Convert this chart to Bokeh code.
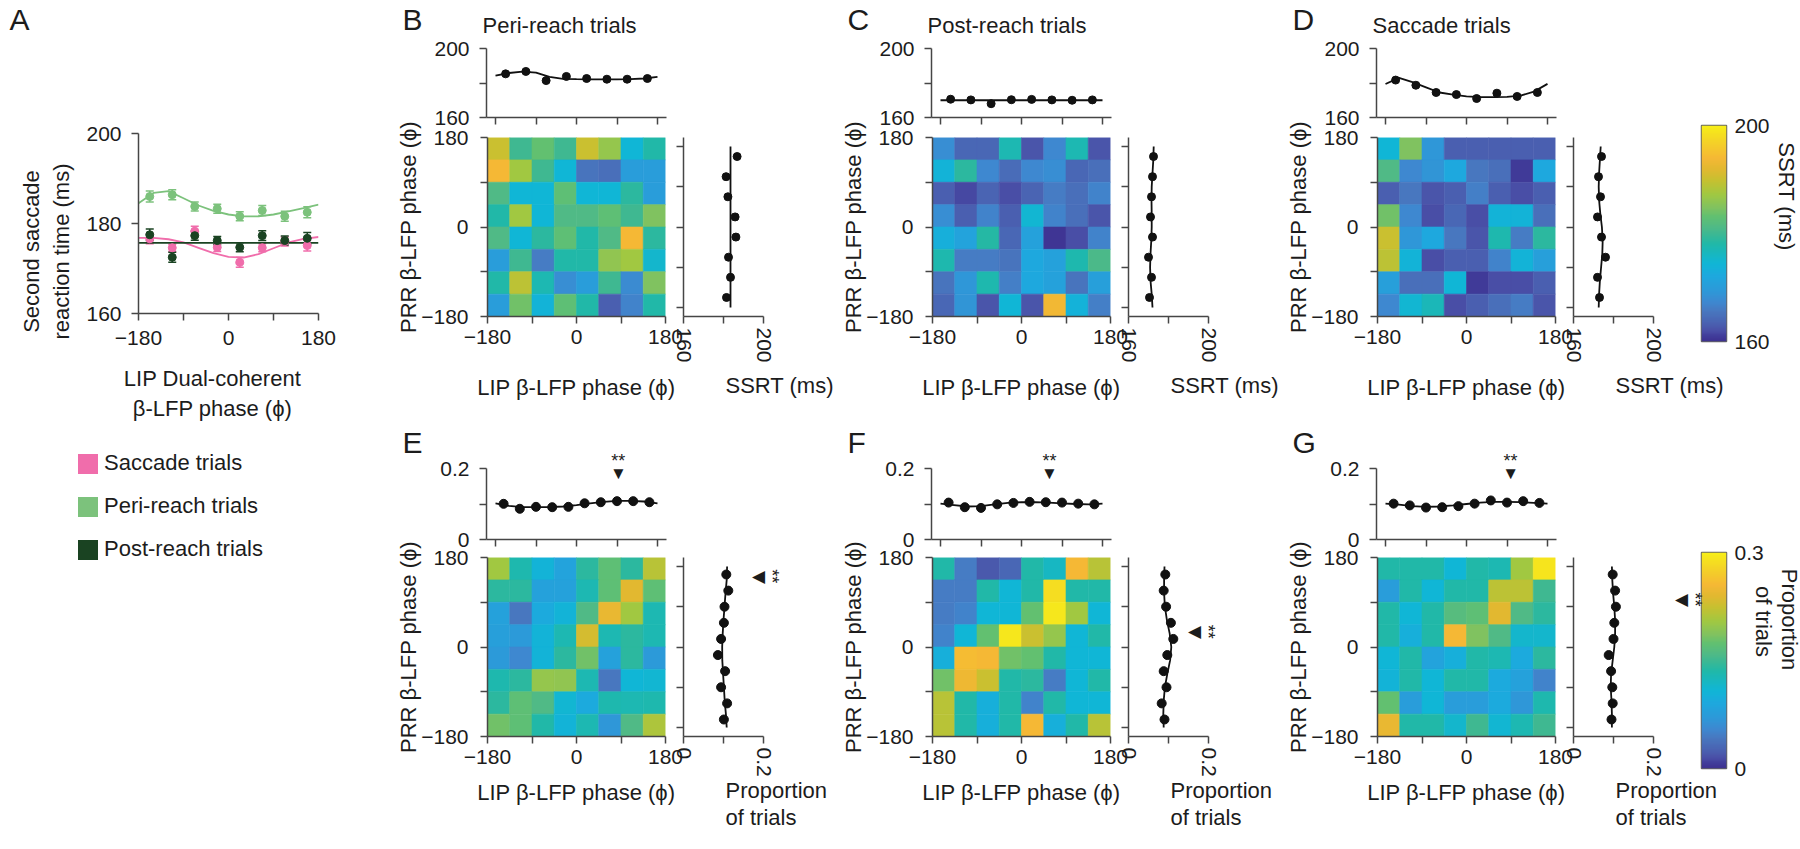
import math
import numpy as np
from bokeh.plotting import figure
from bokeh.layouts import column
from bokeh.models import (ColumnDataSource, FixedTicker, Label, Whisker, TeeHead,
                          Legend, LegendItem, Range1d, LinearAxis, LinearColorMapper,
                          NumeralTickFormatter)
from bokeh.transform import linear_cmap
from bokeh.embed import file_html
from bokeh.resources import INLINE

# ============================ DATA ============================
phase8 = [-157.5, -112.5, -67.5, -22.5, 22.5, 67.5, 112.5, 157.5]
phase10 = [-162, -126, -90, -54, -18, 18, 54, 90, 126, 162]
fit_phase = [-180, -150, -120, -90, -60, -30, 0, 30, 60, 90, 120, 150, 180]
flat_phase = [-180, 180]
heat_bins = [-157.5, -112.5, -67.5, -22.5, 22.5, 67.5, 112.5, 157.5]

# ---- Panel A : second saccade RT vs LIP dual-coherent phase ----
a_sacc = [176.6, 174.6, 178.3, 174.7, 171.4, 174.6, 176.0, 175.1]
a_sacc_err = [1.1, 0.8, 1.1, 0.9, 1.1, 0.9, 1.0, 1.2]
a_peri = [186.0, 186.4, 183.8, 183.3, 181.6, 182.9, 181.6, 182.5]
a_peri_err = [1.2, 1.1, 1.0, 1.0, 1.0, 1.1, 1.1, 1.2]
a_post = [177.5, 172.5, 177.3, 176.2, 174.7, 177.3, 176.2, 176.7]
a_post_err = [1.3, 1.1, 1.0, 0.9, 1.0, 1.1, 1.0, 1.3]
a_sacc_fit = [176.8, 176.8, 176.5, 175.8, 174.6, 173.4, 172.6, 172.4, 173.2, 174.5, 175.8, 176.6, 177.0]
a_peri_fit = [184.5, 186.8, 187.2, 185.6, 184.0, 182.8, 182.0, 181.6, 181.6, 182.0, 182.7, 183.4, 184.2]
a_post_fit = [175.7, 175.7]
legend_labels = ["Saccade trials", "Peri-reach trials", "Post-reach trials"]

# ---- SSRT heat maps (ms); rows listed from PRR phase +157.5 (top) to -157.5 (bottom) ----
heat_B = [
    [190.0, 180.0, 183.2, 180.0, 190.0, 186.4, 174.4, 178.0],
    [194.0, 187.2, 180.0, 174.4, 165.2, 164.8, 170.0, 170.0],
    [181.2, 174.4, 174.4, 182.8, 174.4, 174.4, 178.8, 170.0],
    [178.0, 187.2, 174.4, 181.2, 181.2, 182.8, 180.0, 184.8],
    [181.2, 174.4, 178.8, 182.8, 178.0, 181.2, 194.0, 178.8],
    [170.0, 180.0, 166.0, 178.0, 178.0, 186.0, 187.2, 175.2],
    [178.0, 189.2, 177.2, 168.0, 170.0, 180.0, 167.6, 184.8],
    [170.0, 184.0, 174.0, 182.8, 178.0, 163.2, 166.8, 178.0],
]
heat_C = [
    [168.0, 164.0, 164.0, 177.2, 162.4, 167.2, 177.2, 162.4],
    [174.0, 178.8, 167.2, 164.4, 167.2, 168.0, 164.0, 164.8],
    [163.2, 161.6, 163.6, 162.0, 163.6, 166.0, 164.8, 166.8],
    [168.0, 163.2, 166.8, 163.2, 174.8, 166.8, 164.8, 162.4],
    [173.2, 171.2, 178.4, 164.0, 170.8, 160.4, 162.0, 166.8],
    [177.6, 166.0, 166.0, 165.2, 172.0, 170.8, 177.6, 180.8],
    [165.2, 169.2, 177.6, 166.4, 172.0, 170.8, 165.2, 170.4],
    [164.0, 168.8, 162.4, 174.4, 162.4, 193.6, 173.6, 166.4],
]
heat_D = [
    [174.4, 184.8, 169.2, 163.2, 163.2, 163.2, 163.2, 163.2],
    [181.2, 167.2, 168.8, 172.0, 165.6, 164.8, 160.8, 172.0],
    [163.2, 165.6, 162.4, 163.2, 166.4, 163.2, 162.0, 163.2],
    [184.0, 167.2, 162.0, 164.0, 162.0, 174.0, 174.0, 164.8],
    [190.0, 169.2, 172.0, 165.6, 162.4, 177.6, 166.0, 178.8],
    [189.2, 174.0, 162.0, 163.2, 163.2, 166.8, 174.0, 170.4],
    [170.4, 164.8, 164.8, 174.4, 160.8, 162.0, 162.0, 163.2],
    [167.2, 174.8, 176.8, 162.0, 163.2, 164.8, 166.0, 162.4],
]
# ---- proportion-of-trials heat maps ----
heat_E = [
    [0.204, 0.132, 0.105, 0.084, 0.141, 0.171, 0.141, 0.216],
    [0.141, 0.141, 0.081, 0.081, 0.129, 0.171, 0.240, 0.171],
    [0.081, 0.042, 0.093, 0.105, 0.159, 0.246, 0.204, 0.129],
    [0.078, 0.072, 0.105, 0.129, 0.231, 0.129, 0.141, 0.129],
    [0.072, 0.054, 0.105, 0.141, 0.180, 0.081, 0.141, 0.072],
    [0.132, 0.141, 0.198, 0.195, 0.129, 0.042, 0.108, 0.111],
    [0.141, 0.171, 0.159, 0.111, 0.093, 0.132, 0.129, 0.132],
    [0.180, 0.171, 0.135, 0.105, 0.129, 0.069, 0.159, 0.210],
]
heat_F = [
    [0.135, 0.045, 0.021, 0.030, 0.135, 0.120, 0.255, 0.216],
    [0.045, 0.045, 0.135, 0.108, 0.135, 0.285, 0.135, 0.135],
    [0.045, 0.051, 0.108, 0.108, 0.174, 0.294, 0.204, 0.108],
    [0.051, 0.108, 0.174, 0.294, 0.225, 0.198, 0.108, 0.135],
    [0.099, 0.258, 0.255, 0.180, 0.174, 0.135, 0.108, 0.108],
    [0.180, 0.249, 0.225, 0.135, 0.141, 0.045, 0.108, 0.135],
    [0.216, 0.135, 0.099, 0.135, 0.051, 0.135, 0.108, 0.108],
    [0.216, 0.135, 0.099, 0.135, 0.255, 0.099, 0.135, 0.216],
]
heat_G = [
    [0.135, 0.135, 0.135, 0.108, 0.135, 0.129, 0.204, 0.291],
    [0.075, 0.135, 0.108, 0.135, 0.135, 0.219, 0.219, 0.150],
    [0.135, 0.108, 0.135, 0.165, 0.171, 0.240, 0.159, 0.141],
    [0.135, 0.099, 0.135, 0.255, 0.186, 0.159, 0.114, 0.114],
    [0.108, 0.135, 0.084, 0.099, 0.135, 0.129, 0.093, 0.141],
    [0.105, 0.135, 0.108, 0.135, 0.135, 0.093, 0.081, 0.051],
    [0.174, 0.075, 0.108, 0.075, 0.075, 0.093, 0.069, 0.132],
    [0.246, 0.135, 0.135, 0.114, 0.150, 0.111, 0.129, 0.150],
]

# ---- marginal SSRT (ms) along LIP phase (top) and PRR phase (side) ----
top_B = [185.3, 186.7, 181.4, 183.8, 182.6, 182.2, 182.2, 182.6]
top_C = [170.6, 170.2, 168.0, 170.3, 170.5, 170.2, 170.0, 170.2]
top_D = [181.7, 178.7, 174.5, 173.3, 171.0, 174.1, 172.2, 174.5]
top_B_fit = [184.3, 185.8, 186.6, 186.0, 183.6, 182.4, 182.2, 182.1, 182.1, 182.1, 182.2, 182.6, 183.6]
top_C_fit = [170.0, 170.0]
top_D_fit = [179.4, 183.0, 180.5, 177.5, 174.5, 173.2, 172.3, 171.8, 171.8, 172.0, 172.7, 175.0, 179.5]
side_B = [181.5, 183.5, 182.5, 186.2, 185.8, 182.2, 181.3, 186.8]
side_C = [170.5, 171.5, 170.0, 172.0, 171.0, 171.5, 172.0, 172.5]
side_D = [173.0, 172.0, 176.0, 174.0, 172.0, 173.5, 172.5, 174.0]
side_B_fit = [183.5, 183.5]
side_C_fit = [172.0, 171.6, 171.0, 170.8, 171.0, 171.4, 171.6, 171.6, 171.5, 171.6, 172.0, 172.4, 172.6]
side_D_fit = [172.6, 172.8, 173.2, 173.8, 174.4, 174.6, 174.2, 173.4, 172.8, 172.6, 172.8, 173.2, 173.6]
ssrt_err = [0.9, 0.9, 0.9, 0.9, 0.9, 0.9, 0.9, 0.9]

# ---- marginal proportion of trials ----
top_E = [0.1005, 0.0865, 0.092, 0.091, 0.092, 0.102, 0.105, 0.108, 0.108, 0.105]
top_F = [0.104, 0.091, 0.089, 0.099, 0.103, 0.106, 0.105, 0.104, 0.101, 0.099]
top_G = [0.101, 0.096, 0.090, 0.091, 0.094, 0.101, 0.110, 0.104, 0.108, 0.103]
top_E_fit = [0.102, 0.095, 0.091, 0.091, 0.091, 0.093, 0.0966, 0.102, 0.106, 0.109, 0.109, 0.107, 0.102]
top_F_fit = [0.101, 0.097, 0.093, 0.094, 0.099, 0.103, 0.105, 0.105, 0.104, 0.102, 0.100, 0.099, 0.101]
top_G_fit = [0.101, 0.098, 0.094, 0.092, 0.093, 0.096, 0.100, 0.104, 0.106, 0.106, 0.105, 0.103, 0.101]
side_E = [0.101, 0.109, 0.094, 0.104, 0.086, 0.094, 0.101, 0.1025, 0.112, 0.107]
side_F = [0.090, 0.083, 0.095, 0.088, 0.097, 0.112, 0.106, 0.094, 0.088, 0.092]
side_G = [0.095, 0.098, 0.097, 0.094, 0.088, 0.100, 0.102, 0.106, 0.104, 0.098]
side_E_fit = [0.108, 0.106, 0.103, 0.101, 0.099, 0.097, 0.0967, 0.098, 0.100, 0.1025, 0.105, 0.108, 0.109]
side_F_fit = [0.088, 0.087, 0.088, 0.091, 0.097, 0.104, 0.107, 0.103, 0.096, 0.091, 0.089, 0.089, 0.090]
side_G_fit = [0.096, 0.096, 0.095, 0.093, 0.094, 0.098, 0.102, 0.104, 0.104, 0.102, 0.099, 0.097, 0.096]
# significant-phase markers (phase, value)
sig_top_phase = [93, 62, 98]
sig_top_val = [0.186, 0.186, 0.186]
sig_side_phase = [158, 34, 106]
sig_side_val = [0.1875, 0.165, 0.27]

titles = ["Peri-reach trials", "Post-reach trials", "Saccade trials"]

# ============================ STYLE ============================
FONT = "Liberation Sans"
TXT = "#1c1c1c"
AXC = "#464646"
TICK_FS = "21px"
LAB_FS = "22px"
PINK, LGREEN, DGREEN = "#f06dab", "#7cc27c", "#1a4322"
# parula-like map, matched to the colours seen in the figure
CMAP_STOPS = [
    (0.00, (62, 50, 145)), (0.02, (64, 58, 152)), (0.05, (74, 80, 168)), (0.08, (74, 96, 176)),
    (0.14, (72, 120, 192)), (0.18, (62, 136, 208)), (0.23, (46, 152, 216)), (0.30, (30, 168, 222)),
    (0.36, (16, 182, 214)), (0.45, (32, 184, 168)), (0.50, (62, 184, 146)), (0.53, (80, 186, 134)),
    (0.58, (98, 192, 112)), (0.62, (128, 194, 96)), (0.68, (160, 200, 66)), (0.75, (200, 192, 48)),
    (0.80, (226, 184, 48)), (0.85, (245, 184, 53)), (0.93, (244, 212, 38)), (1.00, (247, 238, 24)),
]
_fr = [s[0] for s in CMAP_STOPS]
PALETTE = []
for t in np.linspace(0, 1, 256):
    rgb = [int(round(np.interp(t, _fr, [s[1][c] for s in CMAP_STOPS]))) for c in range(3)]
    PALETTE.append("#%02x%02x%02x" % tuple(rgb))

ROOT_W, ROOT_H = 1780, 830
FIGS = []


class Panel:
    """A figure whose canvas and frame are given in page pixels."""

    def __init__(self, canvas, frame, xr, yr):
        cx0, cy0, cx1, cy1 = canvas
        fx0, fy0, fx1, fy1 = frame
        self.frame, self.xr, self.yr = frame, xr, yr
        p = figure(width=cx1 - cx0, height=cy1 - cy0, title=None,
                   x_range=Range1d(*xr), y_range=Range1d(*yr),
                   min_border_left=fx0 - cx0, min_border_right=cx1 - fx1,
                   min_border_top=fy0 - cy0, min_border_bottom=cy1 - fy1,
                   x_axis_location=None, y_axis_location=None,
                   output_backend="svg", toolbar_location=None,
                   styles={"position": "absolute", "left": f"{cx0}px", "top": f"{cy0}px"})
        p.frame_align = False
        p.grid.visible = False
        p.outline_line_color = None
        p.background_fill_color = None
        p.border_fill_color = None
        self.p = p
        FIGS.append(p)

    def px(self, x):
        fx0, _, fx1, _ = self.frame
        return fx0 + (x - self.xr[0]) / (self.xr[1] - self.xr[0]) * (fx1 - fx0)

    def py(self, y):
        _, fy0, _, fy1 = self.frame
        return fy1 - (y - self.yr[0]) / (self.yr[1] - self.yr[0]) * (fy1 - fy0)


def add_axis(P, side, major, minor=(), fmt=None, orient=None, tick_out=7, line=True, standoff=10):
    ax = LinearAxis(ticker=FixedTicker(ticks=list(major), minor_ticks=list(minor)))
    if fmt is not None:
        ax.formatter = NumeralTickFormatter(format=fmt)
    ax.axis_line_color = AXC if line else None
    ax.axis_line_width = 1.5
    ax.major_tick_line_color = AXC if tick_out > 0 else None
    ax.minor_tick_line_color = AXC
    ax.major_tick_line_width = 1.5
    ax.minor_tick_line_width = 1.5
    ax.major_tick_in = 0
    ax.minor_tick_in = 0
    ax.major_tick_out = tick_out
    ax.minor_tick_out = tick_out
    ax.major_label_text_font = FONT
    ax.major_label_text_font_size = TICK_FS
    ax.major_label_text_color = TXT
    ax.major_label_standoff = standoff
    if orient is not None:
        ax.major_label_orientation = orient
    P.p.add_layout(ax, side)
    return ax


def errbars(P, base, vals, errs, color, dim="height", head=7):
    src = ColumnDataSource(dict(base=base, lower=[v - e for v, e in zip(vals, errs)],
                                upper=[v + e for v, e in zip(vals, errs)]))
    P.p.add_layout(Whisker(source=src, base="base", lower="lower", upper="upper", dimension=dim,
                           line_color=color, line_width=1.5,
                           upper_head=TeeHead(size=head, line_color=color, line_width=1.5),
                           lower_head=TeeHead(size=head, line_color=color, line_width=1.5)))


TEXTS = []  # (page x, page y, text, size, align, angle)


def text(px, py, s, size=LAB_FS, align="left", angle=0.0):
    TEXTS.append((px, py, s, size, align, angle))


# ============================ PANEL A ============================
A = Panel((8, 8, 392, 430), (138, 133, 318, 313), (-180, 180), (160, 200))
add_axis(A, "left", [160, 180, 200])
add_axis(A, "below", [-180, 0, 180], [-90, 90])
series = [(a_sacc, a_sacc_err, a_sacc_fit, fit_phase, PINK),
          (a_peri, a_peri_err, a_peri_fit, fit_phase, LGREEN),
          (a_post, a_post_err, a_post_fit, flat_phase, DGREEN)]
for vals, errs, fit, fph, col in series:
    A.p.line(fph, fit, line_color=col, line_width=1.8)
for vals, errs, fit, fph, col in series:
    errbars(A, phase8, vals, errs, col, head=8)
    A.p.scatter(phase8, vals, size=8, marker="circle", fill_color=col, line_color=col)
text(9, 19, "A", size="30px")
text(31, 251, "Second saccade", angle=math.pi / 2, align="center")
text(61, 251, "reaction time (ms)", angle=math.pi / 2, align="center")
text(212, 378, "LIP Dual-coherent", align="center")
text(212, 408, "\u03b2-LFP phase (\u03d5)", align="center")

# ============================ B–G ============================
groups = [
    # letter, row, k, heat, lo, hi, top, top_fit, side, side_fit, kind
    ("B", 0, 0, heat_B, 160, 200, top_B, top_B_fit, side_B, side_B_fit, "ssrt"),
    ("C", 0, 1, heat_C, 160, 200, top_C, top_C_fit, side_C, side_C_fit, "ssrt"),
    ("D", 0, 2, heat_D, 160, 200, top_D, top_D_fit, side_D, side_D_fit, "ssrt"),
    ("E", 1, 0, heat_E, 0.0, 0.3, top_E, top_E_fit, side_E, side_E_fit, "prop"),
    ("F", 1, 1, heat_F, 0.0, 0.3, top_F, top_F_fit, side_F, side_F_fit, "prop"),
    ("G", 1, 2, heat_G, 0.0, 0.3, top_G, top_G_fit, side_G, side_G_fit, "prop"),
]

for letter, rw, k, heat, lo, hi, top, top_fit, side, side_fit, kind in groups:
    ox = 445 * k
    if rw == 0:
        tf = (486 + ox, 48, 666 + ox, 117)
        tc = (380 + ox, 8, 800 + ox, 128)
        hf = (487 + ox, 137, 665 + ox, 316)
        hc = (380 + ox, 124, 692 + ox, 424)
        sf = (683 + ox, 137, 763 + ox, 316)
        sc = (670 + ox, 124, 832 + ox, 424)
        ylet, xlab_y = 19, 387
    else:
        tf = (486 + ox, 468, 666 + ox, 539)
        tc = (380 + ox, 428, 800 + ox, 548)
        hf = (487 + ox, 557, 665 + ox, 736)
        hc = (380 + ox, 544, 692 + ox, 828)
        sf = (683 + ox, 557, 763 + ox, 736)
        sc = (670 + ox, 544, 832 + ox, 828)
        ylet, xlab_y = 442, 792

    if kind == "ssrt":
        vr = (160, 200)
        vmaj, vmin, vfmt = [160, 200], [180], None
        xs_t, xs_s = phase8, phase8
    else:
        vr = (0.0, 0.2)
        vmaj, vmin, vfmt = [0.0, 0.2], [0.1], "0.[0]"
        xs_t, xs_s = phase10, phase10

    # ---- top marginal ----
    T = Panel(tc, tf, (-200, 200), vr)
    add_axis(T, "left", vmaj, vmin, fmt=vfmt)
    add_axis(T, "below", [], [-180, -90, 0, 90, 180])
    fph = fit_phase if len(top_fit) == len(fit_phase) else flat_phase
    T.p.line(fph, top_fit, line_color="#111111", line_width=1.8)
    if kind == "ssrt":
        errbars(T, xs_t, top, ssrt_err, "#111111", head=7)
        T.p.scatter(xs_t, top, size=8, marker="circle", fill_color="#111111", line_color="#111111")
    else:
        T.p.scatter(xs_t, top, size=9, marker="circle", fill_color="#111111", line_color="#111111")
        ax_, ay_ = T.px(sig_top_phase[k]), T.py(sig_top_val[k])
        text(ax_, ay_, "\u25bc", size="17px", align="center")
        text(ax_, ay_ - 12, "**", size="18px", align="center")
    text(402 + ox, ylet, letter, size="30px")
    if rw == 0:
        text(482 + ox, 25, titles[k])

    # ---- heat map ----
    H = Panel(hc, hf, (-180, 180), (-180, 180))
    xs, ys, vs = [], [], []
    for i, rowvals in enumerate(heat):
        for j, v in enumerate(rowvals):
            xs.append(heat_bins[j])
            ys.append(heat_bins[len(heat_bins) - 1 - i])
            vs.append(v)
    cm = linear_cmap("v", PALETTE, lo, hi)
    H.p.rect(x="x", y="y", width=45, height=45, source=ColumnDataSource(dict(x=xs, y=ys, v=vs)),
             fill_color=cm, line_color=cm, line_width=0.6)
    add_axis(H, "left", [-180, 0, 180], [-90, 90], standoff=12)
    add_axis(H, "below", [-180, 0, 180], [-90, 90], standoff=6)
    text(408 + ox, (hf[1] + hf[3]) / 2, "PRR \u03b2-LFP phase (\u03d5)", angle=math.pi / 2, align="center")
    text(576 + ox, xlab_y, "LIP \u03b2-LFP phase (\u03d5)", align="center")

    # ---- side marginal ----
    S = Panel(sc, sf, vr, (-200, 200))
    add_axis(S, "left", [], [-180, -90, 0, 90, 180])
    add_axis(S, "below", vmaj, vmin, fmt=vfmt, orient=-math.pi / 2, standoff=4)
    fph = fit_phase if len(side_fit) == len(fit_phase) else flat_phase
    S.p.line(side_fit, fph, line_color="#111111", line_width=1.8)
    if kind == "ssrt":
        errbars(S, xs_s, side, ssrt_err, "#111111", dim="width", head=7)
        S.p.scatter(side, xs_s, size=8, marker="circle", fill_color="#111111", line_color="#111111")
        text(725 + ox, xlab_y - 2, "SSRT (ms)")
    else:
        S.p.scatter(side, xs_s, size=9, marker="circle", fill_color="#111111", line_color="#111111")
        bx, by = S.px(sig_side_val[k]), S.py(sig_side_phase[k])
        text(bx, by, "\u25c0", size="17px", align="center")
        text(bx + 13, by, "**", size="18px", align="center", angle=-math.pi / 2)
        text(725 + ox, xlab_y - 2, "Proportion")
        text(725 + ox, xlab_y + 25, "of trials")

# ============================ COLOUR BARS ============================
for (frame, canvas, lo, hi, fmt, labels) in [
        ((1701, 125, 1726, 341), (1690, 100, 1799, 424), 160, 200, None, [(1786, 196, "SSRT (ms)")]),
        ((1701, 552, 1726, 768), (1690, 528, 1799, 800), 0.0, 0.3, "0.[0]",
         [(1789, 619, "Proportion"), (1763, 621, "of trials")])]:
    CB = Panel(canvas, frame, (0, 1), (lo, hi))
    mapper = LinearColorMapper(palette=PALETTE, low=lo, high=hi)
    grad = np.linspace(lo, hi, 256).reshape(256, 1)
    CB.p.image(image=[grad], x=0, y=lo, dw=1, dh=hi - lo, color_mapper=mapper)
    CB.p.outline_line_color = "#666666"
    CB.p.outline_line_width = 1.5
    add_axis(CB, "right", [lo, hi], fmt=fmt, tick_out=0, line=False, standoff=8)
    for (px, py, s) in labels:
        text(px, py, s, angle=-math.pi / 2, align="center")

# ============================ TEXT OVERLAYS ============================
# main overlay = exactly the root size (larger children get squeezed), plus a strip on the right
O = Panel((0, 0, ROOT_W, ROOT_H), (0, 0, ROOT_W, ROOT_H), (0, ROOT_W), (ROOT_H, 0))
O2 = Panel((1680, 100, 1799, 846), (1680, 100, 1799, 846), (1680, 1799), (846, 100))
for (px, py, s, size, align, angle) in TEXTS:
    tgt = O2 if px > 1745 else O
    tgt.p.add_layout(Label(x=px, y=py, text=s, text_font=FONT, text_font_size=size, text_color=TXT,
                           text_align=align, text_baseline="middle", angle=angle))
items = []
for lab, col in zip(legend_labels, [PINK, LGREEN, DGREEN]):
    r = O.p.rect(x=[float("nan")], y=[float("nan")], width=1, height=1, fill_color=col, line_color=None)
    items.append(LegendItem(label=lab, renderers=[r]))
leg = Legend(items=items, location=(75, ROOT_H - 562), glyph_width=25, glyph_height=25, label_standoff=4,
             spacing=17, padding=0, margin=0, border_line_color=None, background_fill_alpha=0,
             label_text_font=FONT, label_text_font_size=LAB_FS, label_text_color=TXT)
O.p.add_layout(leg)

root = column(*FIGS, width=ROOT_W, height=ROOT_H)
open("out.html", "w").write(file_html(root, INLINE))
